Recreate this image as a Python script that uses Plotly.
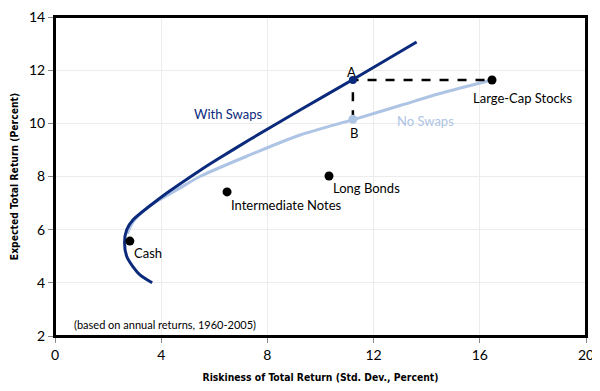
import plotly.graph_objects as go

# Efficient frontier with swaps (risk %, return %)
with_swaps_x = [3.66, 3.20, 2.94, 2.70, 2.62, 2.70, 2.95, 3.58, 4.20, 5.46, 6.09, 7.34, 9.23, 11.24, 13.62]
with_swaps_y = [4.00, 4.30, 4.60, 5.00, 5.50, 6.00, 6.38, 6.90, 7.37, 8.23, 8.63, 9.39, 10.50, 11.66, 13.06]

# Efficient frontier without swaps
no_swaps_x = [2.72, 2.95, 3.50, 4.58, 5.46, 7.34, 9.23, 11.27, 13.00, 14.50, 16.46]
no_swaps_y = [5.85, 6.30, 6.85, 7.49, 8.00, 8.81, 9.56, 10.15, 10.67, 11.12, 11.63]

# Asset classes
asset_names = ["Cash", "Intermediate Notes", "Long Bonds", "Large-Cap Stocks"]
asset_x = [2.82, 6.48, 10.32, 16.46]
asset_y = [5.57, 7.42, 8.02, 11.63]

# Points A and B
point_a = (11.22, 11.63)
point_b = (11.22, 10.15)

x_ticks = [0, 4, 8, 12, 16, 20]
y_ticks = [2, 4, 6, 8, 10, 12, 14]

DARK = "#0b2a7c"
LIGHT = "#aec4e4"
FONT = "Lato"
TITLE_FONT = "DejaVu Sans Condensed"

fig = go.Figure()

fig.add_trace(go.Scatter(x=no_swaps_x, y=no_swaps_y, mode="lines",
                         line=dict(color=LIGHT, width=3, shape="spline", smoothing=0.8),
                         hoverinfo="skip", showlegend=False))
fig.add_trace(go.Scatter(x=with_swaps_x, y=with_swaps_y, mode="lines",
                         line=dict(color=DARK, width=3, shape="spline", smoothing=0.8),
                         hoverinfo="skip", showlegend=False))

# dashed guide lines
fig.add_trace(go.Scatter(x=[point_b[0], point_a[0], asset_x[3]],
                         y=[point_b[1], point_a[1], asset_y[3]],
                         mode="lines", line=dict(color="black", width=2.5, dash="dash"),
                         hoverinfo="skip", showlegend=False))

fig.add_trace(go.Scatter(x=[point_a[0]], y=[point_a[1]], mode="markers",
                         marker=dict(color=DARK, size=8), showlegend=False))
fig.add_trace(go.Scatter(x=[point_b[0]], y=[point_b[1]], mode="markers",
                         marker=dict(color=LIGHT, size=9), showlegend=False))

fig.add_trace(go.Scatter(x=asset_x, y=asset_y, mode="markers",
                         marker=dict(color="black", size=9), showlegend=False))

lab_font = dict(family=FONT, size=13, color="black")
# asset labels (x anchor, y, anchor)
asset_label_pos = [
    (2.91, 5.13, "left"),
    (6.56, 6.93, "left"),
    (10.40, 7.56, "left"),
    (17.59, 10.94, "center"),
]
for name, (lx, ly, anc) in zip(asset_names, asset_label_pos):
    fig.add_annotation(x=lx, y=ly, text=name, showarrow=False, xanchor=anc,
                       yanchor="middle", font=lab_font)

fig.add_annotation(x=point_a[0] - 0.05, y=11.93, text="A", showarrow=False, font=lab_font)
fig.add_annotation(x=point_b[0] + 0.04, y=9.64, text="B", showarrow=False, font=lab_font)
fig.add_annotation(x=6.5, y=10.35, text="With Swaps", showarrow=False,
                   font=dict(family=FONT, size=13, color=DARK))
fig.add_annotation(x=13.97, y=10.1, text="No Swaps", showarrow=False,
                   font=dict(family=FONT, size=13, color=LIGHT))
fig.add_annotation(x=0.63, y=2.45, text="(based on annual returns, 1960-2005)",
                   showarrow=False, xanchor="left",
                   font=dict(family=FONT, size=11, color="black"))

# plot frame drawn above everything
fig.add_shape(type="rect", xref="paper", yref="paper", x0=0, y0=0, x1=1, y1=1,
              line=dict(color="black", width=2), layer="above")

axis_common = dict(showgrid=True, gridcolor="#ececec", gridwidth=1,
                   showline=True, linecolor="black", linewidth=2, mirror=True,
                   ticks="outside", ticklen=5, tickcolor="#888", tickwidth=1,
                   zeroline=False, automargin=False, ticklabeloverflow="allow",
                   tickfont=dict(family=FONT, size=14, color="black"))

fig.update_xaxes(range=[0, 20], tickvals=x_ticks, ticktext=[str(v) for v in x_ticks],
                 title=dict(text="<b>Riskiness of Total Return (Std. Dev., Percent)</b>",
                            font=dict(family=TITLE_FONT, size=10.3, color="black"),
                            standoff=12),
                 **axis_common)
fig.update_yaxes(range=[2, 14], tickvals=y_ticks, ticktext=[str(v) for v in y_ticks],
                 title=dict(text="<b>Expected Total Return (Percent)</b>",
                            font=dict(family=TITLE_FONT, size=10.3, color="black"),
                            standoff=8),
                 **axis_common)

# the page body adds an 8px offset; margins compensate so the plot box
# lands where the reference has it
fig.update_layout(width=600, height=391, margin=dict(l=47, r=22, t=9, b=63),
                  plot_bgcolor="white", paper_bgcolor="white", showlegend=False)

fig.write_html("out.html")
